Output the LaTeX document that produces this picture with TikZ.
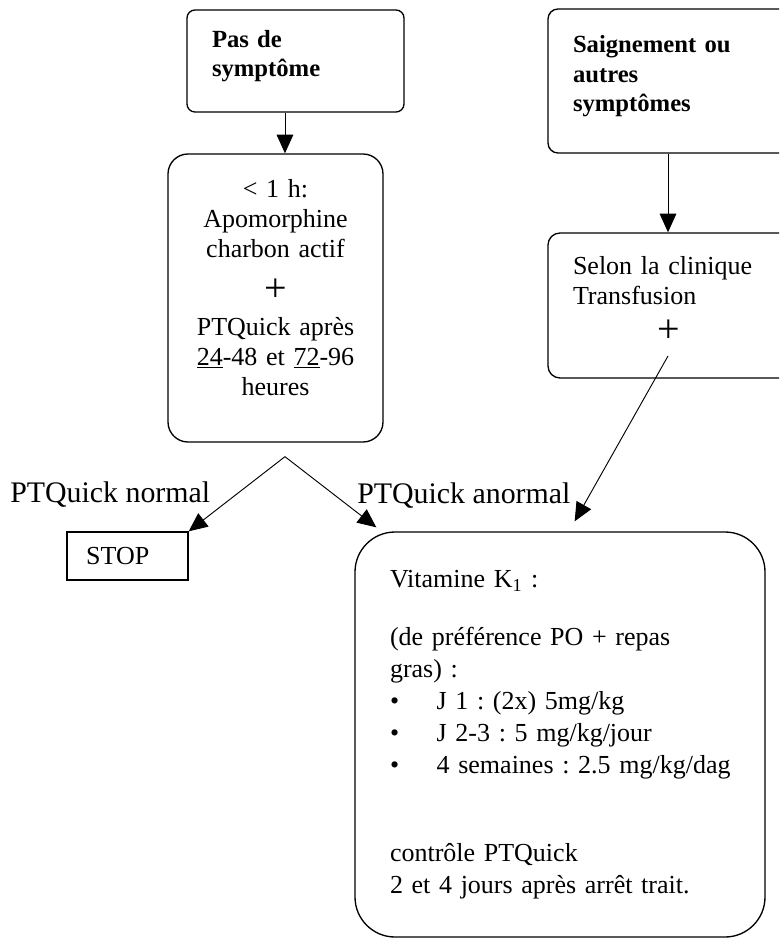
\documentclass[tikz,border=0pt]{standalone}
\usepackage{fontspec}
\setmainfont{Liberation Serif}
\usetikzlibrary{arrows.meta}
\frenchspacing

\newcommand{\vitbul}{\makebox[35pt][l]{•}}
\newcommand{\bigplus}{{\fontsize{30}{30}\selectfont +}}
\newcommand{\lowstrut}[1]{\rule[-#1]{0pt}{0pt}}

\tikzset{
  box/.style={draw, line width=1pt, inner sep=0pt},
  arr/.style={-{Triangle[length=14pt,width=12.5pt]}, line width=0.7pt},
  txt/.style={font=\fontsize{19.5}{22.5}\selectfont},
  btxt/.style={font=\bfseries\fontsize{18.5}{22}\selectfont},
  lbl/.style={font=\fontsize{22.4}{26}\selectfont, inner sep=0pt},
}

\begin{document}
\begin{tikzpicture}[x=0.75pt,y=-0.75pt]
  \useasboundingbox (0,0) rectangle (779,938);
  \clip (0,0) rectangle (779,938);

  % top row
  \node[box, btxt, rounded corners=6pt, minimum width=162.75pt, minimum height=76.5pt,
        text width=125.25pt, align=left] (nosym) at (295.5,61) {Pas de\\symptôme\lowstrut{11pt}};
  \node[box, btxt, rounded corners=7.5pt, minimum width=189pt, minimum height=108pt,
        text width=151.5pt, align=left] (sym) at (674,81) {Saignement ou\\autres\\symptômes\lowstrut{11pt}};

  % treatment boxes
  \node[box, txt, rounded corners=15pt, minimum width=161.25pt, minimum height=216pt,
        text width=150pt, align=center] (treat) at (275.5,298)
        {< 1 h:\\Apomorphine\\charbon actif\\[10.5pt]\bigplus\\[3pt]PTQuick après\\
         \underline{24}-48 et \underline{72}-96\\heures\lowstrut{16.5pt}};
  \node[box, txt, rounded corners=9pt, minimum width=189pt, minimum height=108.75pt,
        text width=151.5pt, align=left] (clin) at (674,305.5)
        {Selon la clinique\\Transfusion\\[6pt]\hspace*{63pt}\bigplus\lowstrut{9pt}};

  % results
  \node[lbl, anchor=base west] (lnorm) at (10,502) {PTQuick normal};
  \node[lbl, anchor=base west] (lanorm) at (357,503) {PTQuick anormal};
  \node[box, txt, minimum width=90.75pt, minimum height=36pt,
        text width=62pt, align=left] (stop) at (127.5,556) {STOP};
  \node[box, txt, rounded corners=30pt, minimum width=307.5pt, minimum height=303.75pt,
        text width=255pt, align=left, font=\fontsize{19.5}{24}\selectfont] (vit) at (560,734.5)
        {Vitamine K\textsubscript{1} :\\[20pt]
         (de préférence PO + repas\\
         gras) :\\
         \mbox{\vitbul J 1 : (2x) 5mg/kg}\\
         \mbox{\vitbul J 2-3 : 5 mg/kg/jour}\\
         \mbox{\vitbul 4 semaines : 2.5 mg/kg/dag}\\[42pt]
         contrôle PTQuick\\
         \mbox{2 et 4 jours après arrêt trait.}};

  \coordinate (split) at ([xshift=7.1pt,yshift=-10.5pt]treat.south);

  \draw[arr] ([xshift=-7.9pt]nosym.south) -- ([xshift=7.1pt]treat.north);
  \draw[arr] ([xshift=-4.5pt]sym.south) -- ([xshift=-4.5pt]clin.north);
  \draw[arr] (split) -- (stop.north east);
  \draw[arr] (split) -- ([shift={(16.5pt,3pt)}]vit.north west);
  \draw[arr] ([shift={(-4.5pt,17pt)}]clin.south) -- ([shift={(11pt,7.5pt)}]vit.north);
\end{tikzpicture}
\end{document}
